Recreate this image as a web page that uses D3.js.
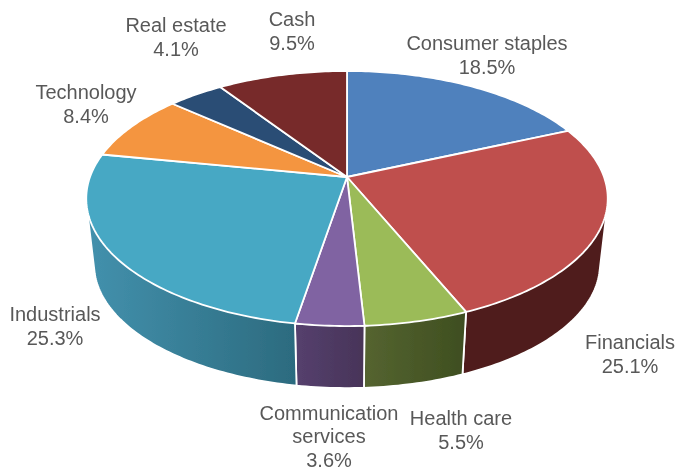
<!DOCTYPE html>
<html>
<head>
<meta charset="utf-8">
<script src="https://cdn.jsdelivr.net/npm/d3@7/dist/d3.min.js"></script>
<style>
    html, body { margin: 0; padding: 0; background: #fff; }
    svg { display: block; }
    text { font-family: "Liberation Sans", Arial, sans-serif; font-size: 20px; fill: #595959; text-anchor: middle; }
</style>
</head>
<body>
<div id="chart"></div>
<script>
    // values
    const categories = ["Consumer staples", "Financials", "Health care", "Communication services",
        "Industrials", "Technology", "Real estate", "Cash"];
    const weights = [18.5, 25.1, 5.5, 3.6, 25.3, 8.4, 4.1, 9.5];

    // styles
    const topColors = ["#4f81bd", "#bf504d", "#9bbb59", "#8064a2", "#46a8c4", "#f4953f", "#2c4d75", "#772c2a"];
    const wallLeft = ["#2f4d71", "#4f1d1b", "#556430", "#55406e", "#4391ad", "#94592a", "#1a2e46", "#471a19"];
    const wallRight = ["#2f4d71", "#4f1d1b", "#3e4e20", "#483458", "#2c6b7f", "#94592a", "#1a2e46", "#471a19"];

    // label lines and where each block starts (centre x, first baseline)
    const labelLines = [["Consumer staples"], ["Financials"], ["Health care"], ["Communication", "services"],
        ["Industrials"], ["Technology"], ["Real estate"], ["Cash"]];
    const labelAnchors = [[487, 50], [630, 349], [461, 425], [329, 419.5], [55, 321], [86, 99], [176, 32], [292, 26]];

    const width = 678, height = 467;
    const cx = 347, cy = 177;
    const rx = 257, ry = 123.9, persp = 0.1687;
    const depth = 66.5, bottomScale = 0.97;
    const lineHeight = 23.5;

    // circle on the table -> screen, far side is a bit smaller
    function project(angle, scale, drop) {
        let w = 1 + persp * Math.cos(angle);
        return [
            cx + scale * rx * Math.sin(angle) / w,
            cy + drop - scale * ry * Math.cos(angle) / w
        ];
    }

    function rim(d, scale, drop) {
        let n = Math.max(2, Math.ceil((d.endAngle - d.startAngle) * 60));
        return d3.range(n + 1).map(function (i) {
            return project(d.startAngle + (d.endAngle - d.startAngle) * i / n, scale, drop);
        });
    }

    const line = d3.line();
    const pie = d3.pie().sort(null).value(function (d) { return d; });
    const slices = pie(weights);

    const svg = d3.select("#chart").append("svg")
        .attr("width", width)
        .attr("height", height);

    const defs = svg.append("defs");
    defs.append("filter")
        .attr("id", "soft")
        .attr("x", 0).attr("y", 0).attr("width", 1).attr("height", 1)
        .attr("filterUnits", "objectBoundingBox")
        .append("feGaussianBlur")
        .attr("stdDeviation", 0.4);

    const root = svg.append("g").attr("filter", "url(#soft)");
    root.append("rect").attr("width", width).attr("height", height).attr("fill", "#fff");

    slices.forEach(function (d, i) {
        let xs = rim(d, 1, 0).map(function (p) { return p[0]; });
        let grad = defs.append("linearGradient")
            .attr("id", "wall" + i)
            .attr("gradientUnits", "userSpaceOnUse")
            .attr("x1", d3.min(xs)).attr("x2", d3.max(xs))
            .attr("y1", 0).attr("y2", 0);
        grad.append("stop").attr("offset", 0).attr("stop-color", wallLeft[i]);
        grad.append("stop").attr("offset", 1).attr("stop-color", wallRight[i]);
    });

    // walls first, they are covered by the top where they face away.
    // hull so the outline also closes at the far left and right of the pie
    root.append("g").selectAll("path")
        .data(slices)
        .enter()
        .append("path")
        .attr("fill", function (d, i) { return "url(#wall" + i + ")"; })
        .attr("stroke", "#fff")
        .attr("stroke-width", 1.8)
        .attr("stroke-linejoin", "round")
        .attr("d", function (d) {
            return line(d3.polygonHull(rim(d, 1, 0).concat(rim(d, bottomScale, depth)))) + "Z";
        });

    // top face
    root.append("g").selectAll("path")
        .data(slices)
        .enter()
        .append("path")
        .attr("fill", function (d, i) { return topColors[i]; })
        .attr("stroke", "#fff")
        .attr("stroke-width", 1.8)
        .attr("stroke-linejoin", "round")
        .attr("d", function (d) {
            return line([[cx, cy]].concat(rim(d, 1, 0))) + "Z";
        });

    // labels
    const labels = root.append("g").selectAll("text")
        .data(slices)
        .enter()
        .append("text")
        .attr("transform", function (d, i) {
            return "translate(" + labelAnchors[i][0] + "," + labelAnchors[i][1] + ")";
        });

    labels.selectAll("tspan")
        .data(function (d, i) {
            return labelLines[i].concat([weights[i].toFixed(1) + "%"]);
        })
        .enter()
        .append("tspan")
        .attr("x", 0)
        .attr("y", function (d, i) { return i * lineHeight; })
        .text(function (d) { return d; });
</script>
</body>
</html>
